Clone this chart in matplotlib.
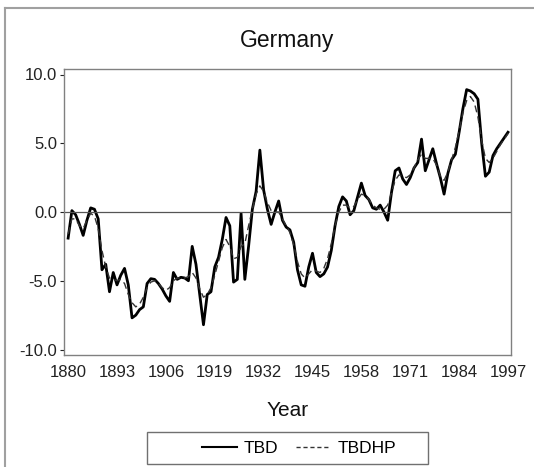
#!/usr/bin/env python3
"""Line chart: Germany TBD and its HP trend, 1880-1997."""
import matplotlib
matplotlib.use("Agg")
import matplotlib.pyplot as plt
from matplotlib.patches import Rectangle
from matplotlib.lines import Line2D

years = list(range(1880, 1998))

tbd = [
    -1.9, 0.1, -0.2, -0.9, -1.7, -0.6, 0.3, 0.2, -0.5, -4.2,   # 1880-1889
    -3.8, -5.8, -4.4, -5.3, -4.6, -4.1, -5.3, -7.7, -7.5, -7.1,  # 1890-1899
    -6.9, -5.2, -4.85, -4.9, -5.2, -5.6, -6.1, -6.5, -4.4, -4.9,  # 1900-1909
    -4.75, -4.8, -5.0, -2.5, -3.8, -6.0, -8.2, -6.0, -5.8, -4.0,  # 1910-1919
    -3.3, -2.0, -0.4, -1.0, -5.1, -4.9, -0.1, -4.9, -2.5, 0.2,   # 1920-1929
    1.5, 4.5, 1.6, 0.2, -0.9, 0.0, 0.8, -0.6, -1.1, -1.3,        # 1930-1939
    -2.2, -4.2, -5.3, -5.4, -4.0, -3.0, -4.4, -4.7, -4.5, -4.0,  # 1940-1949
    -2.8, -1.0, 0.4, 1.1, 0.8, -0.2, 0.1, 1.1, 2.1, 1.2,         # 1950-1959
    0.9, 0.3, 0.2, 0.5, 0.0, -0.6, 1.4, 3.0, 3.2, 2.4,           # 1960-1969
    2.0, 2.5, 3.2, 3.6, 5.3, 3.0, 3.8, 4.6, 3.5, 2.5,            # 1970-1979
    1.3, 2.8, 3.8, 4.2, 5.8, 7.5, 8.9, 8.8, 8.6, 8.2,            # 1980-1989
    5.0, 2.6, 2.9, 4.1, 4.6, 5.0, 5.4, 5.8,                      # 1990-1997
]

tbdhp = [
    -1.6, -0.5, -0.5, -1.0, -1.2, -0.6, -0.1, -0.3, -1.2, -2.8,
    -4.0, -4.8, -4.9, -5.0, -4.9, -5.2, -6.0, -6.6, -6.9, -6.7,
    -6.2, -5.5, -5.1, -5.0, -5.2, -5.5, -5.7, -5.5, -5.0, -4.8,
    -4.8, -4.8, -4.7, -4.4, -4.8, -5.6, -6.2, -6.0, -5.5, -4.6,
    -3.6, -2.6, -2.0, -2.5, -3.4, -3.3, -2.5, -2.3, -1.0, 0.2,
    1.3, 1.9, 1.5, 0.7, 0.1, 0.0, 0.0, -0.5, -1.0, -1.5,
    -2.4, -3.6, -4.5, -4.8, -4.5, -4.2, -4.3, -4.4, -4.1, -3.4,
    -2.3, -1.0, 0.0, 0.5, 0.5, 0.3, 0.4, 0.9, 1.3, 1.2,
    0.9, 0.5, 0.3, 0.2, 0.2, 0.5, 1.4, 2.3, 2.7, 2.6,
    2.5, 2.7, 3.2, 3.8, 4.2, 3.9, 3.9, 3.9, 3.4, 2.6,
    2.3, 2.9, 3.8, 4.7, 5.9, 7.2, 8.1, 8.4, 8.0, 6.9,
    5.2, 3.9, 3.6, 3.9, 4.4, 4.9, 5.3, 5.7,
]

xticks = list(range(1880, 1998, 13))
yticks = [-10.0, -5.0, 0.0, 5.0, 10.0]

W, H = 534, 467
plt.rcParams["font.family"] = ["Liberation Sans", "DejaVu Sans"]

fig = plt.figure(figsize=(W / 100, H / 100), dpi=100)
ax = fig.add_axes([64 / W, 1 - 355 / H, 447 / W, 286 / H])

ax.plot(years, tbd, color="black", lw=2.0, solid_joinstyle="round")
ax.plot(years, tbdhp, color="#333333", lw=1.0, ls=(0, (5, 3)))
ax.axhline(0, color="#555555", lw=0.9)

ax.set_xlim(1878.9, 1997.8)
ax.set_ylim(-10.4, 10.4)
ax.set_xticks(xticks)
ax.set_yticks(yticks)
ax.set_yticklabels([f"{v:.1f}" for v in yticks])
ax.tick_params(axis="x", length=0, labelsize=12, pad=7, colors="#222222")
ax.tick_params(axis="y", length=3, width=0.8, direction="out", labelsize=12,
               pad=2, colors="#222222")
for s in ax.spines.values():
    s.set_color("#808080")
    s.set_linewidth(1.0)

fig.text(287.5 / W, 1 - 40 / H, "Germany", ha="center", va="center",
         fontsize=16.5, color="#111111")
fig.text(288 / W, 1 - 411 / H, "Year", ha="center", va="center",
         fontsize=15, color="#111111")

# legend box
fig.patches.append(Rectangle((147 / W, 1 - 464 / H), 281 / W, 32 / H,
                             transform=fig.transFigure, fill=False,
                             edgecolor="#707070", lw=1.0))
handles = [Line2D([], [], color="black", lw=1.5),
           Line2D([], [], color="#333333", lw=1.0, ls=(0, (3, 2)))]
fig.legend(handles, ["TBD", "TBDHP"], loc="center",
           bbox_to_anchor=(299 / W, 1 - 448 / H), ncol=2, frameon=False,
           fontsize=12.5, handlelength=2.0, handletextpad=0.4,
           columnspacing=1.0)

# outer frame (top and left edges)
fig.add_artist(Line2D([5 / W, 5 / W], [0, 1 - 8 / H], transform=fig.transFigure,
                      color="#a0a0a0", lw=1.5))
fig.add_artist(Line2D([5 / W, 1], [1 - 8 / H, 1 - 8 / H],
                      transform=fig.transFigure, color="#a0a0a0", lw=1.5))

fig.savefig("out.png", dpi=100)
